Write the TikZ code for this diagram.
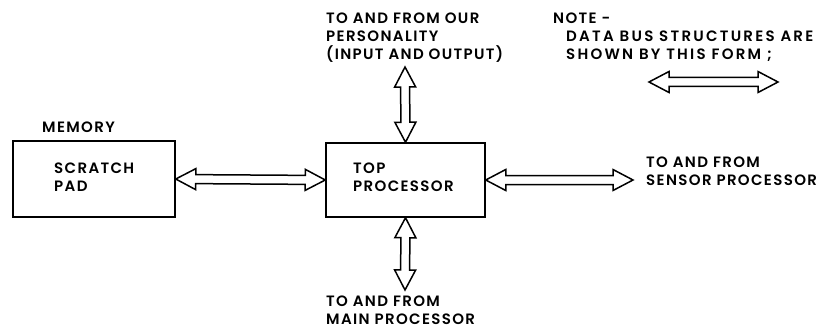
\documentclass[tikz,border=0pt]{standalone}
\usepackage{fontspec}
\setmainfont{Poppins}[BoldFont={Poppins SemiBold},LetterSpace=9]
\usetikzlibrary{calc}
\newcommand{\busarrow}[2]{%
  \draw[busline] (#1)
    -- ($($(#1)!20pt!(#2)$)!10.5pt!90:(#2)$)
    -- ($($(#1)!20pt!(#2)$)!4.5pt!90:(#2)$)
    -- ($($(#2)!20pt!(#1)$)!4.5pt!-90:(#1)$)
    -- ($($(#2)!20pt!(#1)$)!10.5pt!-90:(#1)$)
    -- (#2)
    -- ($($(#2)!20pt!(#1)$)!10.5pt!90:(#1)$)
    -- ($($(#2)!20pt!(#1)$)!4.5pt!90:(#1)$)
    -- ($($(#1)!20pt!(#2)$)!4.5pt!-90:(#2)$)
    -- ($($(#1)!20pt!(#2)$)!10.5pt!-90:(#2)$)
    -- cycle;}
\begin{document}
\begin{tikzpicture}[x=1pt,y=-1pt,
  box/.style={draw,line width=1.5pt,inner sep=0pt},
  busline/.style={draw,line width=1.5pt,line join=miter},
  lbl/.style={inner sep=0pt,anchor=north west,align=left,font=\bfseries\fontsize{15}{18}\selectfont},
  wide/.style={font=\bfseries\fontsize{15}{18}\selectfont\addfontfeature{LetterSpace=15}}]
\useasboundingbox (0,0) rectangle (836,329);
\node[box,minimum width=162pt,minimum height=76pt] (sp) at (94,179) {};
\node[box,minimum width=159pt,minimum height=74pt] (tp) at (405.5,180) {};
\node[lbl] (spt) at (54,163) {SCRATCH\\PAD};
\node[lbl] (tpt) at (353,163) {TOP\\PROCESSOR};
\node[lbl] (mem) at (42,122) {MEMORY};
\node[lbl] (pers) at (326,13) {TO AND FROM OUR\\PERSONALITY\\(INPUT AND OUTPUT)};
\node[lbl] (note) at (553,13) {NOTE -};
\node[lbl,wide] (notet) at (566,31) {DATA BUS STRUCTURES ARE\\SHOWN BY THIS FORM ;};
\node[lbl] (sens) at (646,157) {TO AND FROM\\SENSOR PROCESSOR};
\node[lbl] (mainp) at (326,296) {TO AND FROM\\MAIN PROCESSOR};
\coordinate (ctop) at (405,67);
\coordinate (cbot) at (405,290);
\coordinate (cright) at (633,180);
\coordinate (n1) at (649,82);
\coordinate (n2) at (778,82);
\busarrow{sp.east}{tp.west}
\busarrow{tp.north}{ctop}
\busarrow{tp.south}{cbot}
\busarrow{tp.east}{cright}
\busarrow{n1}{n2}
\end{tikzpicture}
\end{document}
